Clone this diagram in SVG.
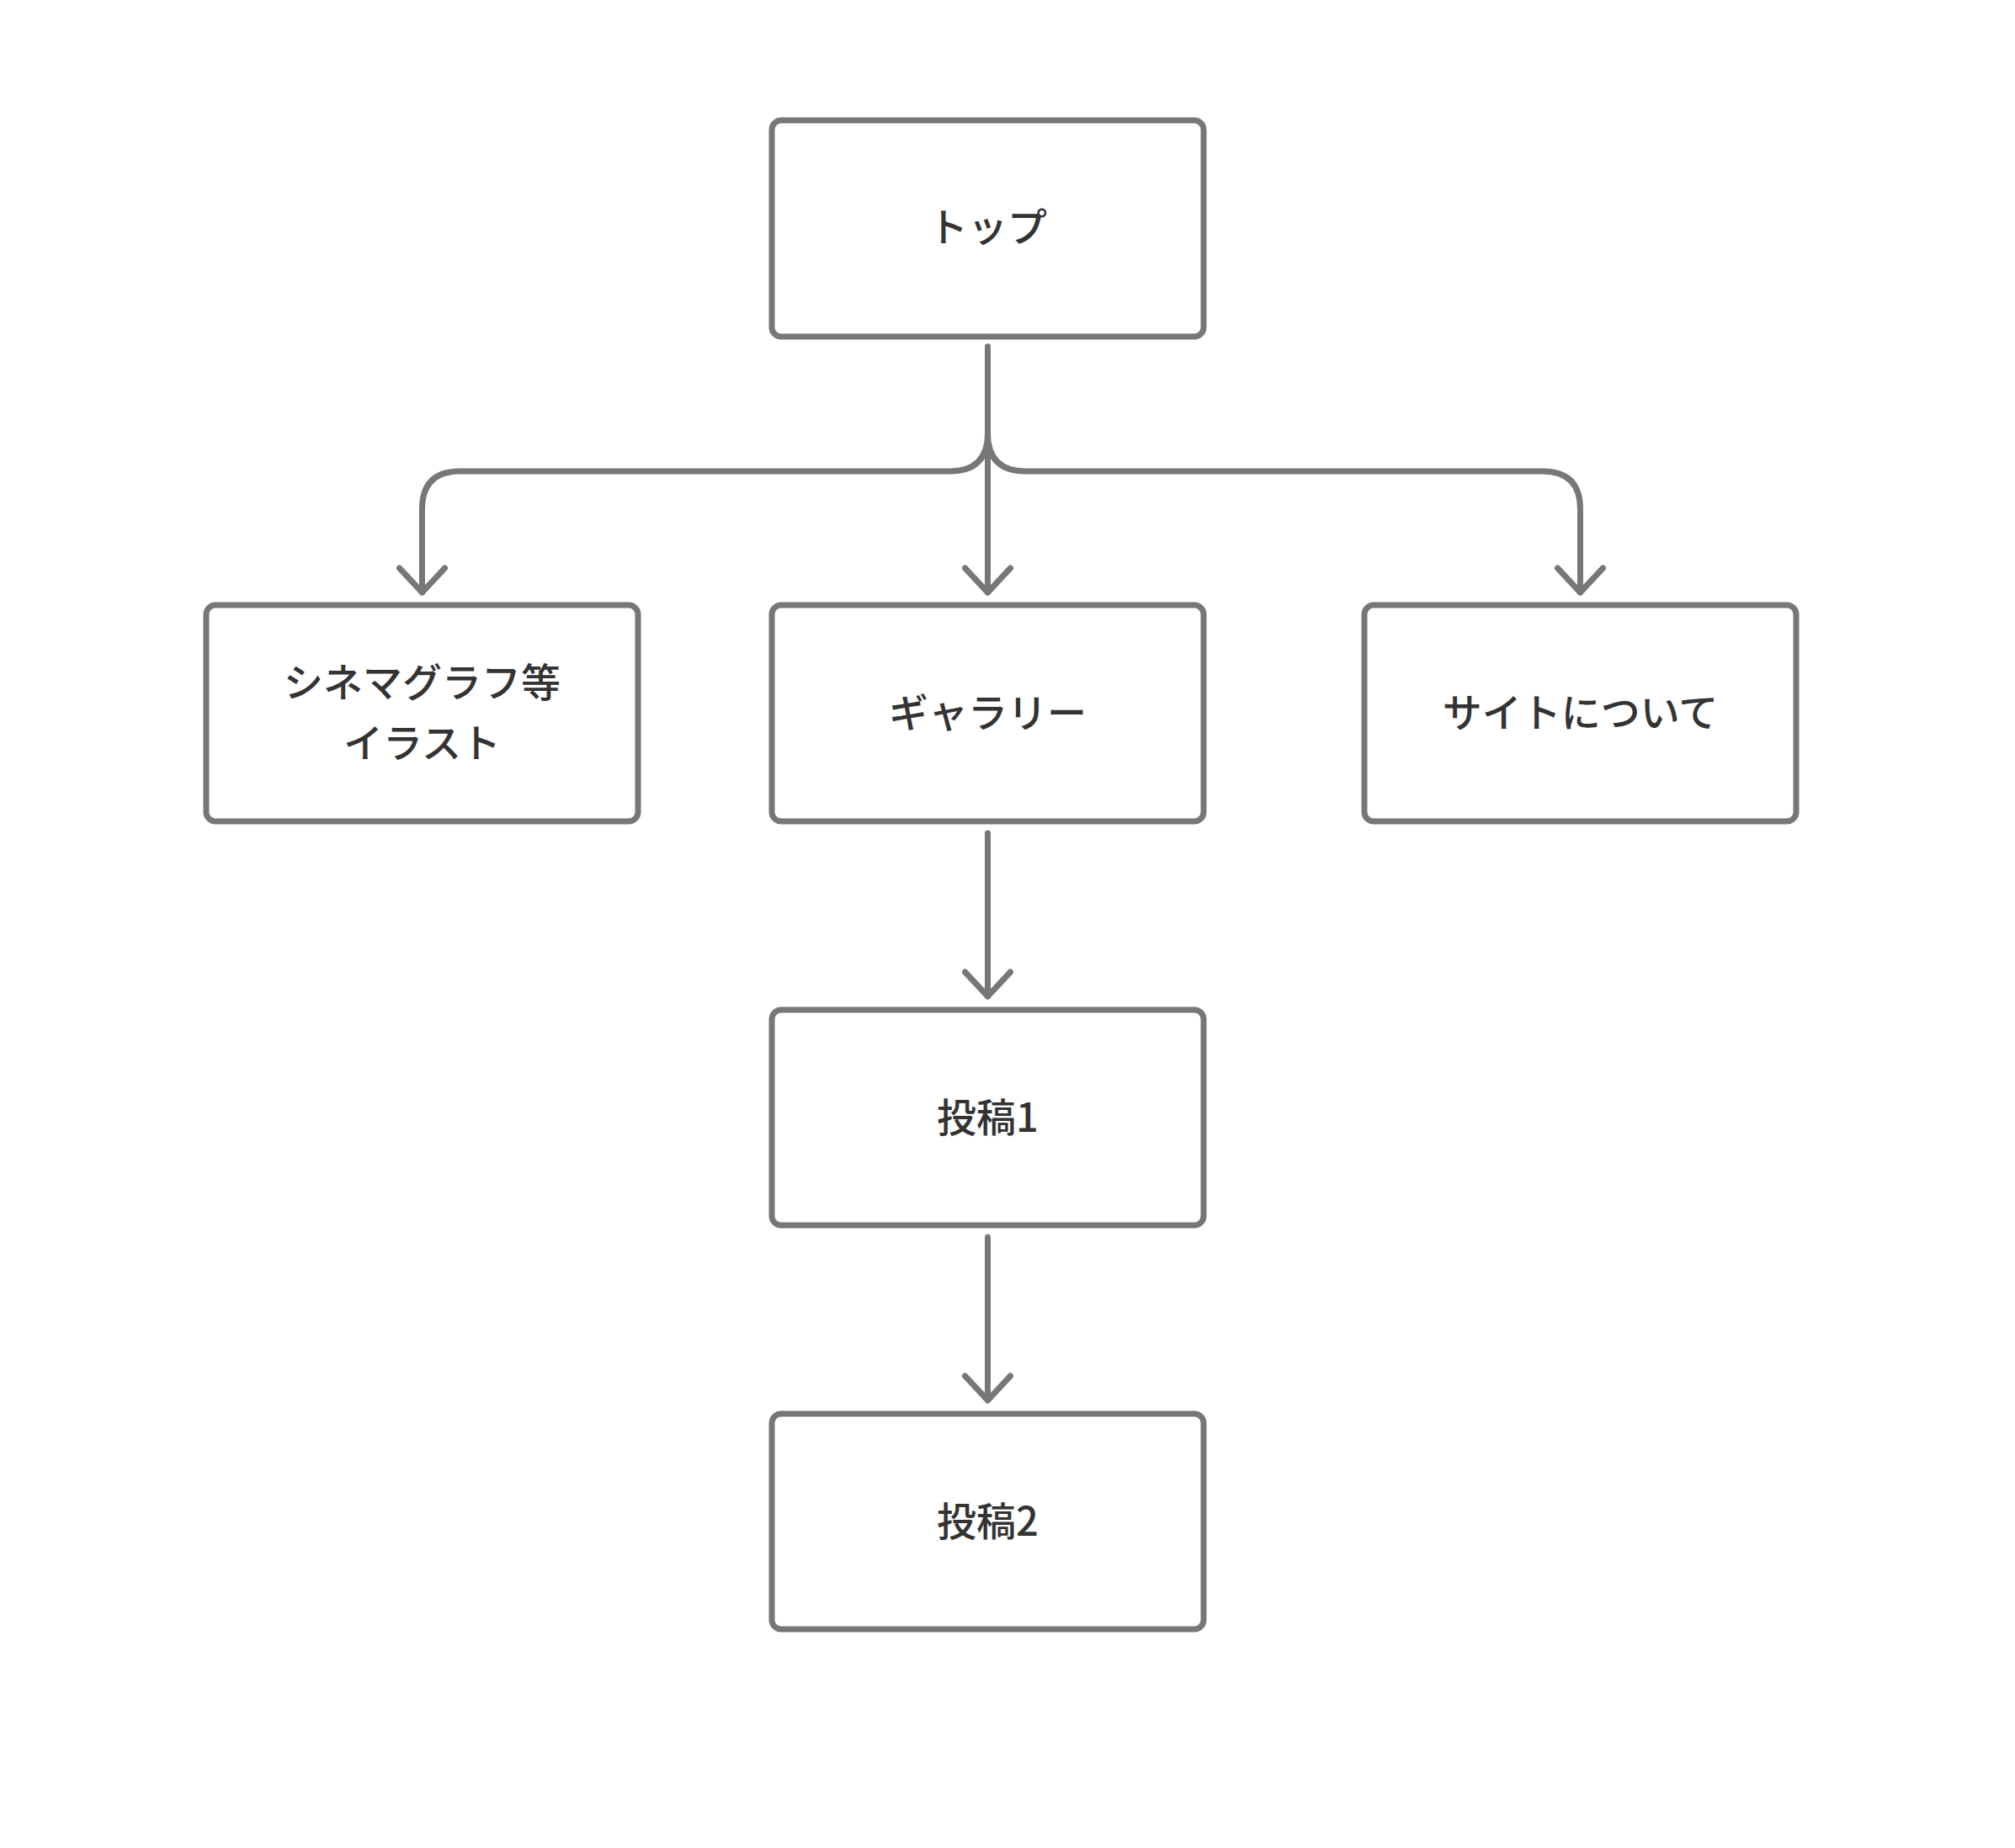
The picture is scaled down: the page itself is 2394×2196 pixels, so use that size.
<svg xmlns="http://www.w3.org/2000/svg" width="2394" height="2196" viewBox="0 0 2394 2196">
<style>
.box{fill:#ffffff;stroke:#777777;stroke-width:7}
.lbl{font-family:"Noto Sans CJK JP","Noto Sans",sans-serif;font-size:47px;font-weight:500;fill:#333333;text-anchor:middle}
.con{fill:none;stroke:#777777;stroke-width:7;stroke-linecap:round;stroke-linejoin:round}
</style>
<rect width="2394" height="2196" fill="#ffffff"/>
<g id="connectors">
<path class="con" d="M1173.5 412 V704"/>
<path class="con" d="M1173.5 412 V515 Q1173.5 560 1128.5 560 H546.5 Q501.5 560 501.5 605 V704"/>
<path class="con" d="M1173.5 412 V515 Q1173.5 560 1218.5 560 H1832.5 Q1877.5 560 1877.5 605 V704"/>
<path class="con" d="M474.5 675 L501.5 704 L528.5 675"/>
<path class="con" d="M1146.5 675 L1173.5 704 L1200.5 675"/>
<path class="con" d="M1850.5 675 L1877.5 704 L1904.5 675"/>
<path class="con" d="M1173.5 990 V1184"/>
<path class="con" d="M1146.5 1155 L1173.5 1184 L1200.5 1155"/>
<path class="con" d="M1173.5 1470 V1664"/>
<path class="con" d="M1146.5 1635 L1173.5 1664 L1200.5 1635"/>
</g>
<g id="node-top">
<rect class="box" x="917" y="143" width="513" height="257" rx="11"/>
<text class="lbl" x="1173.5" y="287">トップ</text>
</g>
<g id="node-cinemagraph">
<rect class="box" x="245" y="719" width="513" height="257" rx="11"/>
<text class="lbl" x="501.5" y="828">シネマグラフ等</text>
<text class="lbl" x="501.5" y="900">イラスト</text>
</g>
<g id="node-gallery">
<rect class="box" x="917" y="719" width="513" height="257" rx="11"/>
<text class="lbl" x="1173.5" y="864">ギャラリー</text>
</g>
<g id="node-about">
<rect class="box" x="1621" y="719" width="513" height="257" rx="11"/>
<text class="lbl" x="1877.5" y="864">サイトについて</text>
</g>
<g id="node-post1">
<rect class="box" x="917" y="1200" width="513" height="256" rx="11"/>
<text class="lbl" x="1173.5" y="1345">投稿1</text>
</g>
<g id="node-post2">
<rect class="box" x="917" y="1680" width="513" height="256" rx="11"/>
<text class="lbl" x="1173.5" y="1825">投稿2</text>
</g>
</svg>
